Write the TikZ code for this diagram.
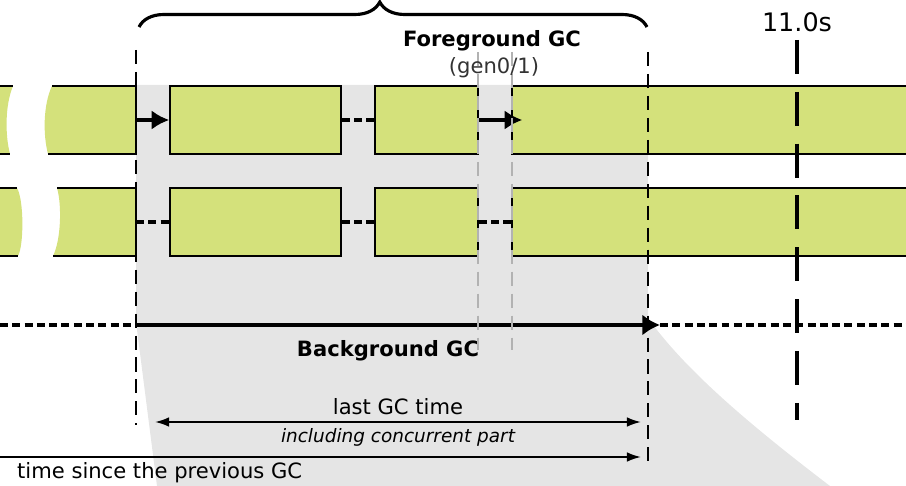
\documentclass[tikz,border=0pt]{standalone}
\usepackage{fontspec}
\setmainfont{DejaVu Sans}[BoldFont={DejaVu Sans Bold}, ItalicFont={DejaVu Sans Oblique}]
\usepackage{xcolor}
\usepackage{tikz}
\usetikzlibrary{arrows.meta, positioning, decorations.pathreplacing}

\definecolor{bargreen}{HTML}{D4E17B}
\definecolor{gcgrey}{HTML}{E5E5E5}

\begin{document}
\begin{tikzpicture}[
    x=0.02cm, y=-0.02cm,
    gcbox/.style = {rectangle, draw=black, line width=0.9pt, fill=bargreen, minimum height=1.36cm, inner sep=0pt},
    waitline/.style = {line width=2pt, dash pattern=on 4.5pt off 2.5pt},
    runline/.style = {line width=1.9pt, -{Latex[length=10pt, width=11pt]}},
    marker/.style = {line width=1pt, dash pattern=on 8pt off 4.5pt},
    greymarker/.style = {line width=1pt, black!30, dash pattern=on 8pt off 4.5pt},
    spanline/.style = {line width=1.1pt},
    font=\fontsize{12}{14}\selectfont
]

\useasboundingbox (0,0) rectangle (906,486);
\clip (0,0) rectangle (906,486);

% shaded gc window
\fill[gcgrey] (136,85) -- (648,85) -- (648,318) .. controls (685,370) and (750,425) .. (830,486)
    -- (157,486) -- (136,322) -- cycle;

% broken bars on the left
\fill[bargreen] (0,86) -- (13,86) .. controls (5,105) and (5,135) .. (10,154) -- (0,154) -- cycle;
\fill[bargreen] (52,86) -- (136,86) -- (136,154) -- (48,154) .. controls (43,135) and (43,105) .. (52,86) -- cycle;
\draw[line width=0.9pt] (0,86) -- (13,86) (52,86) -- (136,86) -- (136,154) -- (48,154) (0,154) -- (10,154);

\fill[bargreen] (0,188) -- (17,188) .. controls (24,200) and (24,245) .. (18,256) -- (0,256) -- cycle;
\fill[bargreen] (57,188) -- (136,188) -- (136,256) -- (53,256) .. controls (61,240) and (62,205) .. (57,188) -- cycle;
\draw[line width=0.9pt] (0,188) -- (17,188) (57,188) -- (136,188) -- (136,256) -- (53,256) (0,256) -- (18,256);

\coordinate (end1) at (136,120);
\coordinate (end2) at (136,222);

% thread boxes
\node [gcbox, minimum width=3.42cm] (a1) at (255.5,120) {};
\node [gcbox, minimum width=2.06cm] (b1) at (426.5,120) {};
\node [gcbox, minimum width=8.16cm] (c1) at (716,120) {};

\node [gcbox, minimum width=3.42cm] (a2) at (255.5,222) {};
\node [gcbox, minimum width=2.06cm] (b2) at (426.5,222) {};
\node [gcbox, minimum width=8.16cm] (c2) at (716,222) {};

\draw[runline] (end1) -- (a1);
\draw[waitline] (a1) -- (b1);
\draw[runline, shorten >=-0.22cm] (b1) -- (c1);

\draw[waitline] (end2) -- (a2);
\draw[waitline] (a2) -- (b2);
\draw[waitline] (b2) -- (c2);

% time line
\coordinate (t0) at (0,325);
\coordinate (gcstart) at (136,325);
\coordinate (gcend) at (660,325);
\coordinate (t1) at (906,325);

\draw[waitline] (t0) -- (gcstart);
\draw[line width=2.2pt, -{Latex[length=10pt, width=12pt]}] (gcstart) -- (gcend);
\draw[waitline] (gcend) -- (t1);

\node[font=\fontsize{12}{14}\selectfont\bfseries] (bg) at (388,351) {Background GC};

% markers
\coordinate (m0t) at (136,50);
\coordinate (m0b) at (136,425);
\coordinate (m1t) at (648,52);
\coordinate (m1b) at (648,465);
\coordinate (m2t) at (797,40);
\coordinate (m2b) at (797,420);
\coordinate (g0t) at (478,52);
\coordinate (g0b) at (478,350);
\coordinate (g1t) at (512,52);
\coordinate (g1b) at (512,350);

\draw[greymarker] (g0t) -- (g0b);
\draw[greymarker] (g1t) -- (g1b);
\draw[marker] (m0t) -- (m0b);
\draw[marker] (m1t) -- (m1b);
\draw[line width=2.2pt, dash pattern=on 19.3pt off 10.2pt] (m2t) -- (m2b);

\node (tick) at (797,22) {\fontsize{14.5}{16}\selectfont 11.0s};

% foreground brace
\coordinate (brl) at (139,27);
\coordinate (brr) at (647,27);
\draw[line width=1.8pt, decorate, decoration={brace, amplitude=0.5cm, aspect=0.474}] (brl) -- (brr);

\node[font=\fontsize{12}{14}\selectfont\bfseries] (fg) at (492,41) {Foreground GC};
\node[text=black!80] (gen) at (494,68) {(gen0/1)};

% durations
\coordinate (lgs) at (155,422);
\coordinate (lge) at (641,422);
\coordinate (ps) at (0,457);
\coordinate (pe) at (641,457);

\draw[spanline, {Latex[length=8pt, width=5.5pt]}-{Latex[length=8pt, width=5.5pt]}] (lgs) --
    node[above] {last GC time}
    node[below, font=\fontsize{10.5}{12}\selectfont\itshape] {including concurrent part} (lge);

\draw[spanline, -{Latex[length=8pt, width=5.5pt]}] (ps) -- (pe);
\node[anchor=west] (since) at (11,473) {time since the previous GC};

\end{tikzpicture}
\end{document}
